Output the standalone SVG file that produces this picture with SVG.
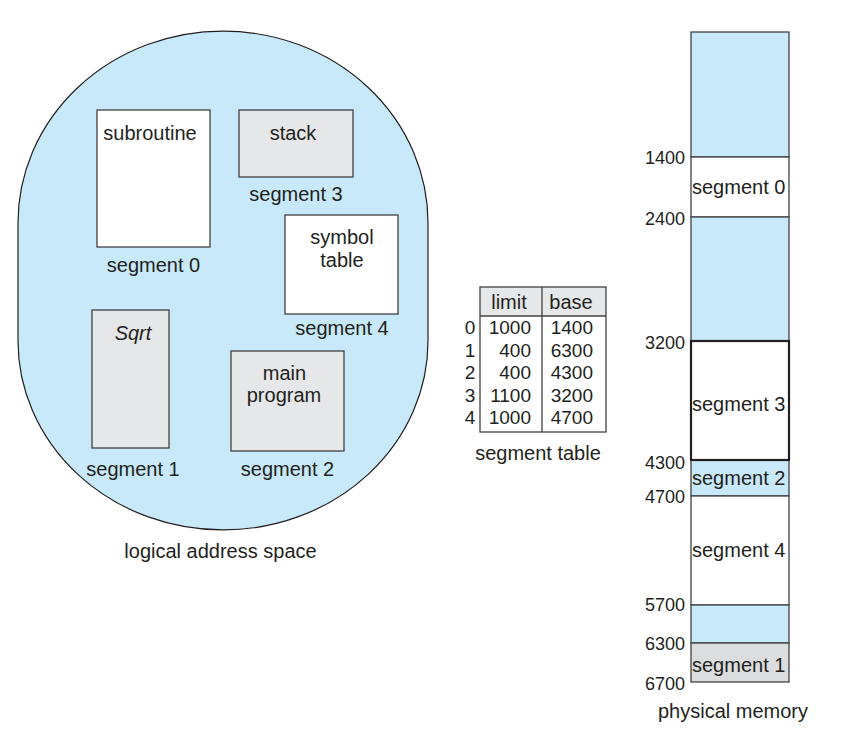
<svg xmlns="http://www.w3.org/2000/svg" width="859" height="747" viewBox="0 0 859 747">
<style>
text{font-family:"Liberation Sans",Arial,sans-serif;font-size:20px;fill:#231f20}
.m{text-anchor:middle}
.e{text-anchor:end}
.n{font-size:18px;text-anchor:end}
.t{font-size:19px}
.box{stroke:#414042;stroke-width:1.3}
.w{fill:#ffffff}
.g{fill:#e6e7e8}
.b{fill:#c7e9f9}
.d{fill:#dcdddf}
</style>
<rect width="859" height="747" fill="#ffffff"/>
<g id="logical-address-space">
<path d="M18,223 A205,192 0 0 1 428,223 L428,341 A205,189 0 0 1 18,341 Z" class="b" stroke="#231f20" stroke-width="1.2"/>
<text class="m" x="220.5" y="558">logical address space</text>
</g>
<g id="seg0">
<rect class="box w" x="97" y="110" width="113" height="137"/>
<text class="m" x="150" y="140">subroutine</text>
<text class="m" x="153.5" y="272">segment 0</text>
</g>
<g id="seg3">
<rect class="box g" x="239" y="110" width="114" height="67"/>
<text class="m" x="293" y="140">stack</text>
<text class="m" x="296" y="201">segment 3</text>
</g>
<g id="seg4">
<rect class="box w" x="285" y="215" width="113" height="99"/>
<text class="m" x="342" y="244">symbol</text>
<text class="m" x="342" y="267">table</text>
<text class="m" x="342" y="335">segment 4</text>
</g>
<g id="seg1">
<rect class="box g" x="92" y="310" width="77" height="138"/>
<text class="m" x="133" y="340" font-style="italic">Sqrt</text>
<text class="m" x="133" y="476">segment 1</text>
</g>
<g id="seg2">
<rect class="box g" x="231" y="351" width="113" height="100"/>
<text class="m" x="284.5" y="380">main</text>
<text class="m" x="284" y="402">program</text>
<text class="m" x="287.5" y="476">segment 2</text>
</g>
<g id="segment-table">
<rect class="g" x="480" y="287" width="126" height="29"/>
<rect x="480" y="287" width="126" height="145" fill="none" stroke="#414042" stroke-width="1.3"/>
<line x1="480" y1="316" x2="606" y2="316" stroke="#414042" stroke-width="1.3"/>
<line x1="542" y1="287" x2="542" y2="432" stroke="#414042" stroke-width="1.3"/>
<text class="m" x="509" y="309">limit</text>
<text class="m" x="571" y="309">base</text>
<g class="t">
<text class="m t" x="470" y="334">0</text>
<text class="m t" x="470" y="357">1</text>
<text class="m t" x="470" y="379">2</text>
<text class="m t" x="470" y="402">3</text>
<text class="m t" x="470" y="424">4</text>
<text class="e t" x="531" y="334">1000</text>
<text class="e t" x="531" y="357">400</text>
<text class="e t" x="531" y="379">400</text>
<text class="e t" x="531" y="402">1100</text>
<text class="e t" x="531" y="424">1000</text>
<text class="e t" x="593" y="334">1400</text>
<text class="e t" x="593" y="357">6300</text>
<text class="e t" x="593" y="379">4300</text>
<text class="e t" x="593" y="402">3200</text>
<text class="e t" x="593" y="424">4700</text>
</g>
<text class="m" x="538" y="460">segment table</text>
</g>
<g id="physical-memory">
<rect class="box b" x="691" y="32" width="98" height="125"/>
<rect class="box w" x="691" y="157" width="98" height="60"/>
<rect class="box b" x="691" y="217" width="98" height="124"/>
<rect class="box b" x="691" y="460" width="98" height="36"/>
<rect class="box w" x="691" y="496" width="98" height="109"/>
<rect class="box b" x="691" y="605" width="98" height="38"/>
<rect class="box d" x="691" y="643" width="98" height="39"/>
<rect class="w" x="691" y="341" width="98" height="119" stroke="#231f20" stroke-width="2.2"/>
<text x="692" y="194">segment 0</text>
<text x="692" y="411">segment 3</text>
<text x="692" y="485">segment 2</text>
<text x="692" y="557">segment 4</text>
<text x="692" y="672">segment 1</text>
<text class="n" x="685" y="164">1400</text>
<text class="n" x="685" y="225">2400</text>
<text class="n" x="685" y="349">3200</text>
<text class="n" x="685" y="469">4300</text>
<text class="n" x="685" y="503">4700</text>
<text class="n" x="685" y="611">5700</text>
<text class="n" x="685" y="650">6300</text>
<text class="n" x="685" y="690">6700</text>
<text class="m" x="733" y="718">physical memory</text>
</g>
</svg>
